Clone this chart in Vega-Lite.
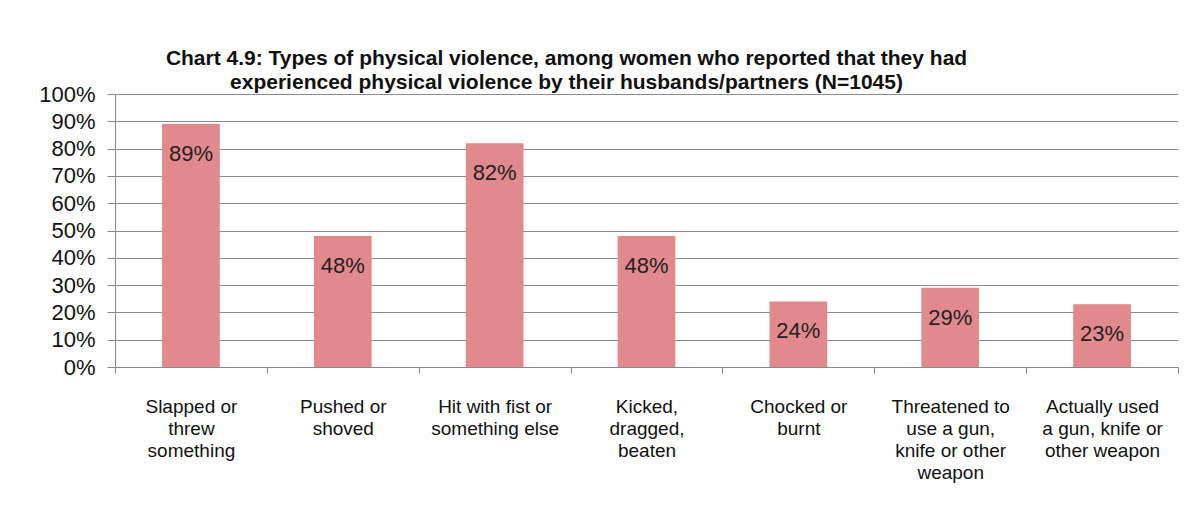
{
  "$schema": "https://vega.github.io/schema/vega-lite/v6.json",
  "width": 1063,
  "height": 273,
  "autosize": "none",
  "padding": {"left": 115, "top": 94, "right": 25, "bottom": 160},
  "background": "white",
  "title": {
    "text": ["Chart 4.9: Types of physical violence, among women who reported that they had", "experienced physical violence by their husbands/partners (N=1045)"],
    "font": "Liberation Sans, Arial, sans-serif",
    "fontSize": 21,
    "fontWeight": "bold",
    "color": "#111111",
    "lineHeight": 24,
    "anchor": "middle",
    "dx": -80,
    "baseline": "bottom",
    "offset": -31
  },
  "data": {
    "values": [
      {"type": "Slapped or|threw|something", "pct": 0.89, "label": "89%"},
      {"type": "Pushed or|shoved", "pct": 0.48, "label": "48%"},
      {"type": "Hit with fist or|something else", "pct": 0.82, "label": "82%"},
      {"type": "Kicked,|dragged,|beaten", "pct": 0.48, "label": "48%"},
      {"type": "Chocked or|burnt", "pct": 0.24, "label": "24%"},
      {"type": "Threatened to|use a gun,|knife or other|weapon", "pct": 0.29, "label": "29%"},
      {"type": "Actually used|a gun, knife or|other weapon", "pct": 0.23, "label": "23%"}
    ]
  },
  "encoding": {
    "x": {
      "field": "type",
      "type": "nominal",
      "sort": null,
      "scale": {"paddingInner": 0, "paddingOuter": 0},
      "axis": {
        "title": null,
        "labelAngle": 0,
        "labelExpr": "split(datum.label, '|')",
        "labelFont": "Liberation Sans, Arial, sans-serif",
        "labelFontSize": 19,
        "labelLineHeight": 22,
        "labelColor": "#111111",
        "labelBaseline": "top",
        "labelPadding": 24,
        "tickBand": "extent",
        "tickSize": 6,
        "tickColor": "#888888",
        "domainColor": "#888888",
        "labelLimit": 0
      }
    },
    "y": {
      "field": "pct",
      "type": "quantitative",
      "scale": {"domain": [0, 1]},
      "axis": {
        "title": null,
        "format": ".0%",
        "values": [0, 0.1, 0.2, 0.3, 0.4, 0.5, 0.6, 0.7, 0.8, 0.9, 1],
        "labelFont": "Liberation Sans, Arial, sans-serif",
        "labelFontSize": 22,
        "labelColor": "#111111",
        "labelPadding": 12,
        "tickSize": 8,
        "tickColor": "#888888",
        "domainColor": "#888888",
        "gridColor": "#8c8c8c",
        "grid": true
      }
    }
  },
  "layer": [
    {"mark": {"type": "bar", "width": {"band": 0.38}, "color": "#e2898d"}},
    {
      "mark": {"type": "text", "dy": 30, "baseline": "middle", "font": "Liberation Sans, Arial, sans-serif", "fontSize": 22, "color": "#222222"},
      "encoding": {"text": {"field": "label"}}
    }
  ],
  "config": {"view": {"stroke": null}}
}
